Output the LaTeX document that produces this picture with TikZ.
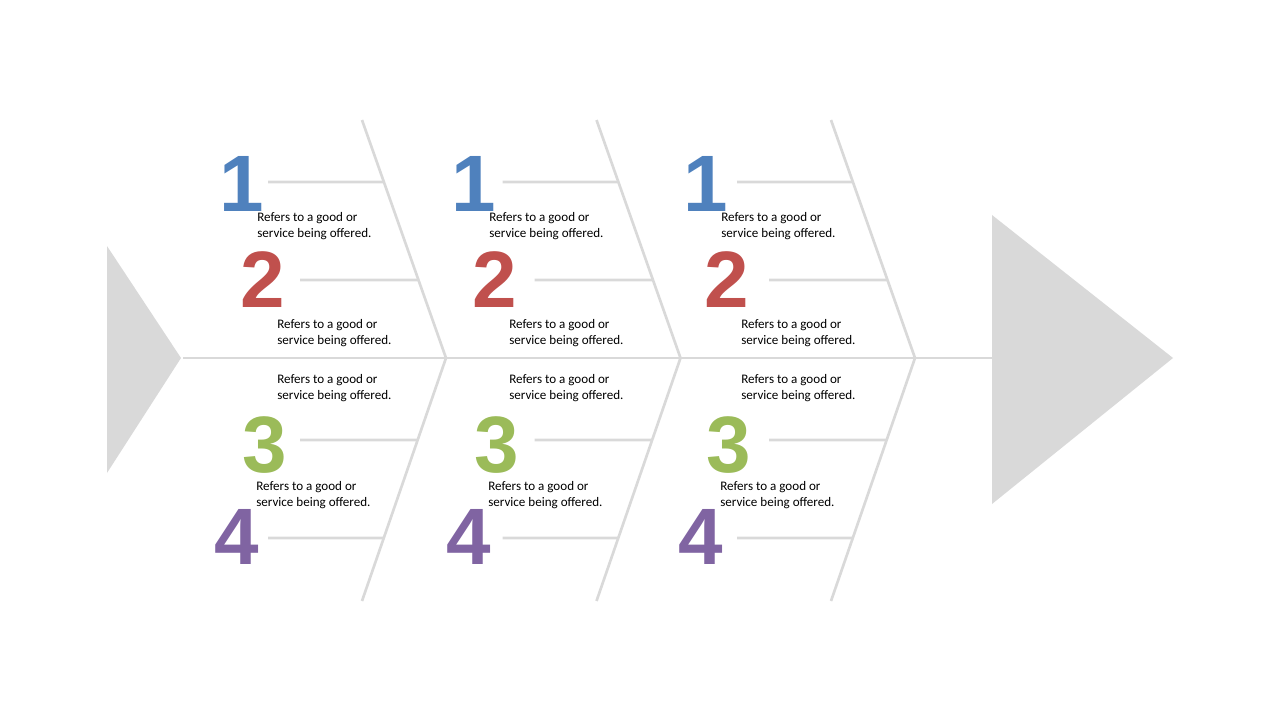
\documentclass[tikz,border=0pt]{standalone}
\usepackage{fontspec}
\setmainfont{Carlito}
\newfontfamily\numfont{Liberation Sans}
\usetikzlibrary{calc}

\definecolor{bonegray}{HTML}{D9D9D9}
\definecolor{numblue}{HTML}{4F81BD}
\definecolor{numred}{HTML}{C0504D}
\definecolor{numgreen}{HTML}{9BBB59}
\definecolor{numpurple}{HTML}{8064A2}

\tikzset{
  bone/.style={draw=bonegray, line width=2pt},
  fin/.style={fill=bonegray, draw=none},
  num/.style={font=\numfont\bfseries\fontsize{60}{60}\selectfont, inner sep=0pt,
              text height=42pt, text depth=0pt, anchor=base},
  desc/.style={font=\fontsize{9.8}{12}\selectfont, align=left, inner sep=0pt, anchor=west}
}

\begin{document}
\begin{tikzpicture}[x=0.75pt, y=-0.75pt]
\useasboundingbox (0,0) rectangle (1280,720);

% tail and head of the fish
\fill[fin] (107,246) -- (181,358) -- (107,473) -- cycle;
\fill[fin] (992,215) -- (1173,358) -- (992,504) -- cycle;

% the spine
\coordinate (tail) at (183,358);
\coordinate (head) at (992,358);
\draw[bone] (tail) -- (head);

% draw the bones and their ribs
\foreach \g in {1,2,3} {
    \pgfmathsetmacro{\dx}{(\g-1)*234.5}
    \coordinate (top\g) at (362+\dx,120);
    \coordinate (joint\g) at (446+\dx,358);
    \coordinate (bot\g) at (362+\dx,601);
    \draw[bone, line join=miter] (top\g) -- (joint\g) -- (bot\g);
    \foreach \r/\x/\y/\a/\b/\p in {1/268/182/top/joint/0.2605,
                                  2/300/280/top/joint/0.672,
                                  3/300/440/joint/bot/0.3374,
                                  4/268/538/joint/bot/0.7407} {
        \coordinate (rib\g-\r) at (\x+\dx,\y);
        \draw[bone] (rib\g-\r) -- ($(\a\g)!\p!(\b\g)$);
    }
}

% numbers and their texts
\foreach \g in {1,2,3} {
    \pgfmathsetmacro{\tx}{(\g-1)*232}
    \foreach \r/\c/\nx/\ny/\lx/\ly in {1/numblue/242/212/257/226.5,
                                      2/numred/263/307/277/333,
                                      3/numgreen/265/472/277/388.5,
                                      4/numpurple/237/564/256/495.5} {
        \node (num\g-\r) [num, text=\c] at (\nx+\tx,\ny) {\r};
        \node (desc\g-\r) [desc] at (\lx+\tx,\ly) {Refers to a good or\\service being offered.};
    }
}

\end{tikzpicture}
\end{document}
